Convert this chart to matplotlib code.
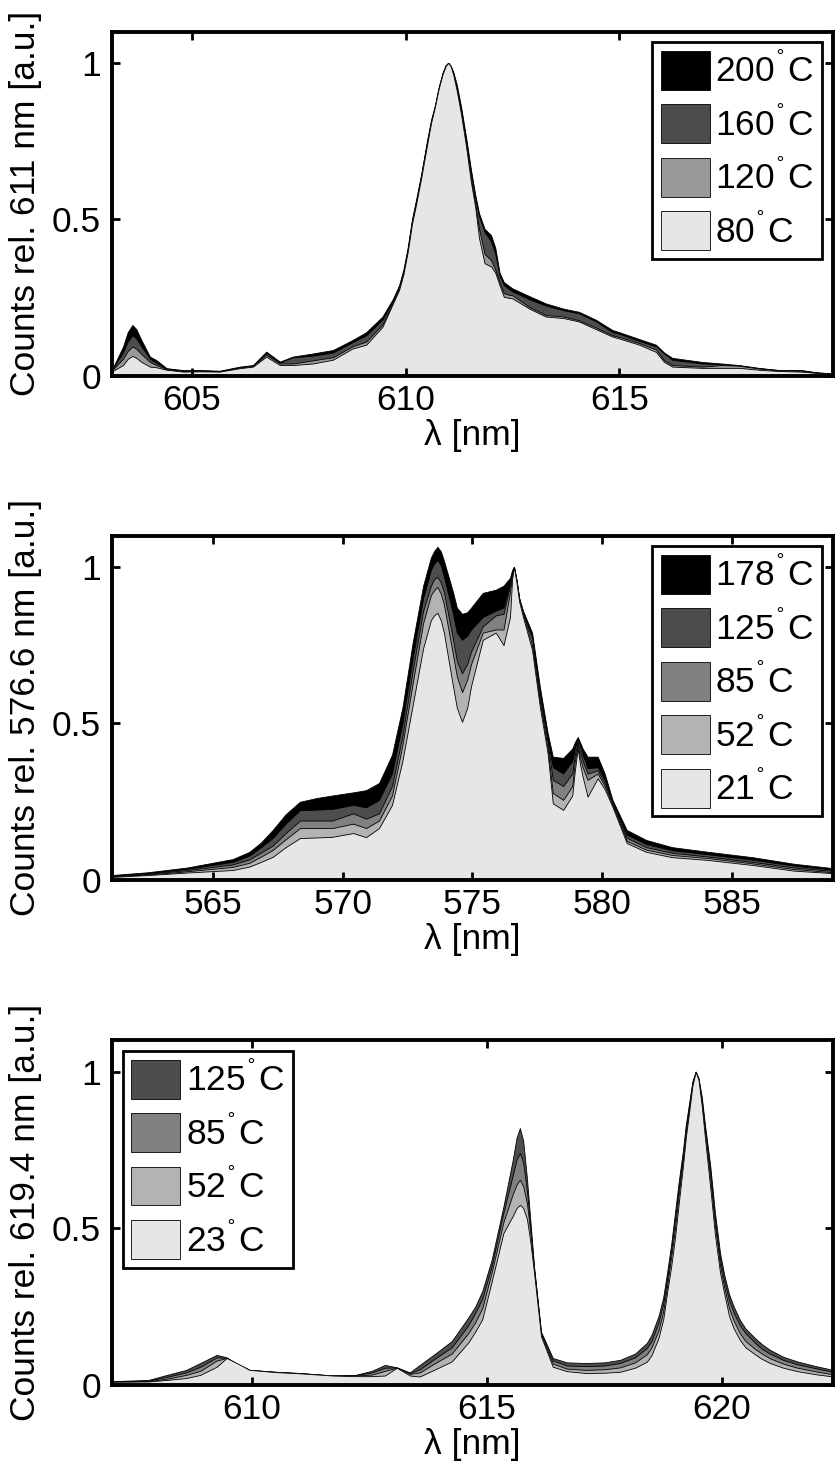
import matplotlib
matplotlib.use("Agg")
import matplotlib.pyplot as plt

plt.rcParams["font.family"] = ["Liberation Sans", "DejaVu Sans"]
plt.rcParams["font.size"] = 25.5

# --- Eu emission, normalised to 611 nm ---
wl_611 = [603.13, 603.39, 603.5, 603.61, 603.7, 603.82, 604.02, 604.17, 604.41, 604.8,
          605.19, 605.65, 606.12, 606.43, 606.74, 607.06, 607.36, 607.83, 608.3, 608.76,
          609.08, 609.46, 609.7, 609.85, 609.95, 610.05, 610.15, 610.25, 610.37, 610.5,
          610.6, 610.68, 610.78, 610.87, 610.94, 611.0, 611.06, 611.12, 611.2, 611.3,
          611.42, 611.53, 611.63, 611.72, 611.85, 612.0, 612.1, 612.2, 612.3, 612.4,
          612.5, 612.9, 613.28, 613.7, 614.06, 614.45, 614.84, 615.0, 615.47, 615.86,
          616.05, 616.24, 616.94, 617.4, 617.8, 618.27, 618.74, 619.27, 619.6, 620.0]
s611_200 = [0.02, 0.094, 0.14, 0.163, 0.15, 0.115, 0.062, 0.051, 0.025, 0.019,
            0.019, 0.017, 0.03, 0.035, 0.078, 0.046, 0.062, 0.072, 0.083, 0.115,
            0.14, 0.19, 0.245, 0.29, 0.34, 0.41, 0.5, 0.565, 0.647, 0.75,
            0.82, 0.86, 0.925, 0.97, 0.993, 1.0, 0.99, 0.97, 0.93, 0.86,
            0.76, 0.66, 0.58, 0.52, 0.47, 0.45, 0.41, 0.33, 0.30, 0.29,
            0.28, 0.255, 0.232, 0.215, 0.205, 0.18, 0.147, 0.14, 0.118, 0.1,
            0.075, 0.058, 0.045, 0.04, 0.035, 0.026, 0.019, 0.019, 0.012, 0.008]
s611_160 = [0.02, 0.075, 0.11, 0.13, 0.12, 0.095, 0.055, 0.042, 0.024, 0.017,
            0.018, 0.016, 0.028, 0.034, 0.074, 0.043, 0.06, 0.065, 0.075, 0.108,
            0.13, 0.18, 0.24, 0.285, 0.335, 0.405, 0.495, 0.56, 0.645, 0.745,
            0.815, 0.858, 0.923, 0.968, 0.992, 1.0, 0.989, 0.965, 0.92, 0.85,
            0.75, 0.65, 0.57, 0.51, 0.46, 0.43, 0.39, 0.32, 0.29, 0.28,
            0.27, 0.245, 0.225, 0.21, 0.2, 0.175, 0.14, 0.135, 0.112, 0.095,
            0.072, 0.052, 0.04, 0.038, 0.034, 0.025, 0.019, 0.018, 0.012, 0.008]
s611_120 = [0.018, 0.055, 0.08, 0.094, 0.087, 0.07, 0.045, 0.035, 0.022, 0.016,
            0.016, 0.015, 0.027, 0.032, 0.068, 0.04, 0.04, 0.05, 0.06, 0.095,
            0.11, 0.165, 0.235, 0.28, 0.33, 0.40, 0.49, 0.555, 0.64, 0.74,
            0.81, 0.855, 0.92, 0.966, 0.991, 1.0, 0.988, 0.96, 0.915, 0.84,
            0.74, 0.63, 0.55, 0.47, 0.39, 0.37, 0.34, 0.30, 0.265, 0.26,
            0.258, 0.22, 0.195, 0.19, 0.178, 0.155, 0.13, 0.125, 0.105, 0.085,
            0.05, 0.035, 0.03, 0.035, 0.033, 0.024, 0.018, 0.017, 0.011, 0.007]
s611_80 = [0.015, 0.035, 0.055, 0.064, 0.058, 0.045, 0.03, 0.028, 0.02, 0.014,
           0.015, 0.014, 0.025, 0.03, 0.062, 0.035, 0.035, 0.04, 0.052, 0.088,
           0.1, 0.157, 0.23, 0.275, 0.325, 0.395, 0.485, 0.55, 0.635, 0.735,
           0.81, 0.855, 0.92, 0.965, 0.99, 1.0, 0.988, 0.96, 0.91, 0.835,
           0.73, 0.62, 0.54, 0.44, 0.36, 0.35, 0.33, 0.29, 0.253, 0.25,
           0.248, 0.215, 0.19, 0.185, 0.174, 0.15, 0.126, 0.12, 0.1, 0.077,
           0.045, 0.03, 0.026, 0.026, 0.026, 0.02, 0.016, 0.014, 0.01, 0.006]

# --- Dy emission, normalised to 576.6 nm ---
wl_576 = [561.1, 562.5, 564.0, 565.76, 566.4, 566.85, 567.3, 567.8, 568.35, 569.0,
          569.6, 570.4, 570.9, 571.4, 571.9, 572.3, 572.7, 573.1, 573.4, 573.52,
          573.65, 573.78, 573.9, 574.25, 574.4, 574.6, 574.8, 574.95, 575.4, 575.9,
          576.2, 576.45, 576.53, 576.6, 576.7, 576.8, 576.95, 577.3, 577.6, 577.9,
          578.1, 578.5, 578.85, 578.95, 579.06, 579.15, 579.25, 579.44, 579.83, 580.1,
          580.4, 580.95, 581.7, 582.7, 584.1, 585.8, 587.4, 588.9]
s576_178 = [0.016, 0.025, 0.04, 0.067, 0.09, 0.12, 0.16, 0.21, 0.25, 0.262,
            0.27, 0.28, 0.287, 0.31, 0.40, 0.55, 0.76, 0.94, 1.03, 1.05,
            1.064, 1.05, 1.02, 0.92, 0.87, 0.85, 0.855, 0.87, 0.917, 0.927,
            0.94, 0.965, 0.99, 1.0, 0.96, 0.9, 0.86, 0.79, 0.617, 0.47,
            0.394, 0.39, 0.42, 0.44, 0.457, 0.44, 0.42, 0.394, 0.394, 0.34,
            0.256, 0.16, 0.128, 0.105, 0.09, 0.073, 0.052, 0.038]
s576_125 = [0.014, 0.022, 0.036, 0.058, 0.078, 0.105, 0.134, 0.18, 0.223, 0.225,
            0.227, 0.24, 0.232, 0.256, 0.34, 0.50, 0.71, 0.90, 0.99, 1.01,
            1.022, 1.005, 0.97, 0.85, 0.79, 0.767, 0.78, 0.80, 0.84, 0.86,
            0.87, 0.95, 0.985, 1.0, 0.958, 0.9, 0.855, 0.78, 0.60, 0.45,
            0.36, 0.34, 0.38, 0.42, 0.45, 0.43, 0.40, 0.357, 0.36, 0.32,
            0.25, 0.145, 0.115, 0.095, 0.082, 0.065, 0.046, 0.033]
s576_85 = [0.012, 0.02, 0.032, 0.05, 0.066, 0.088, 0.11, 0.15, 0.19, 0.19,
           0.19, 0.213, 0.196, 0.213, 0.30, 0.46, 0.67, 0.86, 0.94, 0.96,
           0.968, 0.95, 0.92, 0.77, 0.70, 0.66, 0.69, 0.73, 0.81, 0.845,
           0.85, 0.94, 0.98, 1.0, 0.956, 0.9, 0.85, 0.77, 0.585, 0.44,
           0.32, 0.30, 0.34, 0.40, 0.44, 0.41, 0.38, 0.34, 0.35, 0.31,
           0.245, 0.135, 0.105, 0.087, 0.075, 0.058, 0.04, 0.029]
s576_52 = [0.011, 0.018, 0.028, 0.042, 0.055, 0.075, 0.096, 0.13, 0.166, 0.166,
           0.166, 0.18, 0.166, 0.19, 0.27, 0.43, 0.63, 0.82, 0.91, 0.925,
           0.936, 0.915, 0.88, 0.72, 0.65, 0.60, 0.64, 0.69, 0.79, 0.80,
           0.80, 0.92, 0.975, 1.0, 0.955, 0.9, 0.85, 0.75, 0.57, 0.42,
           0.278, 0.256, 0.30, 0.38, 0.43, 0.39, 0.36, 0.32, 0.34, 0.30,
           0.24, 0.125, 0.097, 0.08, 0.07, 0.053, 0.035, 0.025]
s576_21 = [0.01, 0.016, 0.024, 0.032, 0.043, 0.058, 0.074, 0.105, 0.134, 0.136,
           0.138, 0.15, 0.137, 0.166, 0.24, 0.38, 0.56, 0.74, 0.83, 0.845,
           0.853, 0.83, 0.79, 0.62, 0.55, 0.505, 0.55, 0.62, 0.767, 0.79,
           0.75, 0.84, 0.96, 1.0, 0.95, 0.89, 0.84, 0.735, 0.553, 0.405,
           0.245, 0.224, 0.27, 0.35, 0.42, 0.37, 0.33, 0.266, 0.325, 0.29,
           0.234, 0.118, 0.09, 0.073, 0.064, 0.048, 0.03, 0.022]

# --- Eu emission, normalised to 619.4 nm ---
wl_619 = [607.02, 607.8, 608.19, 608.6, 608.9, 609.25, 609.46, 609.7, 609.95, 610.5,
          611.02, 611.72, 612.2, 612.55, 612.83, 613.08, 613.36, 613.57, 613.9, 614.25,
          614.6, 614.75, 614.9, 615.1, 615.35, 615.55, 615.63, 615.7, 615.77, 615.85,
          615.92, 616.0, 616.15, 616.4, 616.7, 617.1, 617.5, 617.83, 618.15, 618.4,
          618.5, 618.65, 618.75, 618.83, 618.92, 619.0, 619.08, 619.17, 619.23, 619.3,
          619.37, 619.44, 619.5, 619.57, 619.63, 619.75, 619.85, 619.96, 620.05, 620.15,
          620.25, 620.38, 620.5, 620.7, 620.85, 621.02, 621.3, 621.6, 622.0, 622.36]
s619_125 = [0.012, 0.016, 0.032, 0.048, 0.07, 0.096, 0.088, 0.065, 0.048, 0.042,
            0.038, 0.03, 0.032, 0.045, 0.064, 0.056, 0.04, 0.064, 0.1, 0.14,
            0.215, 0.25, 0.3, 0.40, 0.57, 0.72, 0.79, 0.82, 0.78, 0.66,
            0.53, 0.38, 0.17, 0.086, 0.072, 0.07, 0.072, 0.08, 0.1, 0.134,
            0.16, 0.22, 0.28, 0.357, 0.45, 0.55, 0.65, 0.75, 0.83, 0.9,
            0.97, 1.0, 0.98, 0.92, 0.84, 0.7, 0.55, 0.42, 0.35, 0.29,
            0.25, 0.208, 0.18, 0.15, 0.13, 0.112, 0.09, 0.075, 0.06, 0.048]
s619_85 = [0.011, 0.014, 0.026, 0.04, 0.058, 0.088, 0.087, 0.066, 0.048, 0.042,
           0.038, 0.03, 0.031, 0.04, 0.055, 0.056, 0.038, 0.05, 0.085, 0.12,
           0.19, 0.23, 0.275, 0.38, 0.55, 0.67, 0.72, 0.74, 0.71, 0.62,
           0.51, 0.375, 0.165, 0.078, 0.062, 0.06, 0.062, 0.07, 0.088, 0.118,
           0.14, 0.2, 0.26, 0.335, 0.43, 0.53, 0.63, 0.73, 0.82, 0.89,
           0.965, 1.0, 0.978, 0.91, 0.83, 0.68, 0.53, 0.4, 0.33, 0.27,
           0.23, 0.19, 0.165, 0.135, 0.115, 0.1, 0.08, 0.066, 0.053, 0.042]
s619_52 = [0.01, 0.012, 0.02, 0.032, 0.045, 0.078, 0.086, 0.066, 0.048, 0.041,
           0.037, 0.03, 0.03, 0.033, 0.045, 0.055, 0.035, 0.04, 0.07, 0.1,
           0.165, 0.2, 0.245, 0.36, 0.52, 0.61, 0.64, 0.655, 0.635, 0.58,
           0.49, 0.37, 0.16, 0.068, 0.052, 0.048, 0.05, 0.056, 0.072, 0.098,
           0.12, 0.175, 0.235, 0.315, 0.41, 0.5, 0.61, 0.72, 0.80, 0.88,
           0.96, 1.0, 0.976, 0.9, 0.82, 0.66, 0.51, 0.38, 0.31, 0.245,
           0.205, 0.165, 0.14, 0.115, 0.1, 0.085, 0.068, 0.055, 0.043, 0.034]
s619_23 = [0.01, 0.011, 0.016, 0.022, 0.032, 0.058, 0.086, 0.068, 0.048, 0.041,
           0.037, 0.03, 0.028, 0.028, 0.03, 0.055, 0.03, 0.027, 0.05, 0.075,
           0.135, 0.17, 0.21, 0.33, 0.485, 0.54, 0.565, 0.575, 0.565, 0.53,
           0.46, 0.36, 0.155, 0.058, 0.044, 0.038, 0.039, 0.042, 0.055, 0.074,
           0.095, 0.15, 0.21, 0.293, 0.38, 0.47, 0.58, 0.70, 0.79, 0.87,
           0.955, 1.0, 0.974, 0.89, 0.80, 0.63, 0.48, 0.357, 0.29, 0.22,
           0.18, 0.144, 0.12, 0.098, 0.083, 0.07, 0.055, 0.044, 0.034, 0.027]

GREYS = {200: "#000000", 178: "#000000", 160: "#4d4d4d", 125: "#4d4d4d",
         120: "#999999", 85: "#808080", 52: "#b3b3b3", 80: "#e6e6e6",
         23: "#e6e6e6", 21: "#e6e6e6"}


def _panel(ax, wl, series, xlim, xticks, ylabel, legend_loc):
    # hottest spectrum at the back, coolest in front
    for temp, spec in series:
        ax.fill_between(wl, 0, spec, facecolor=GREYS[temp], edgecolor="k",
                        linewidth=0.6, label=f"{temp}$^{{^{{\\circ}}}}$C")
    ax.set_xlim(*xlim)
    ax.set_ylim(0, 1.1)
    ax.set_xticks(xticks)
    ax.set_yticks([0, 0.5, 1])
    ax.set_yticklabels(["0", "0.5", "1"])
    ax.set_xlabel(r"λ [nm]", labelpad=1)
    ax.set_ylabel(ylabel, labelpad=7)
    ax.tick_params(direction="in", top=True, right=True, length=6, width=2)
    ax.tick_params(axis="x", pad=6)
    ax.tick_params(axis="y", pad=8)
    for sp in ax.spines.values():
        sp.set_linewidth(2.8)
    leg = ax.legend(loc=legend_loc, fontsize=25.5, fancybox=False, edgecolor="k",
                    framealpha=1, handlelength=1.38, handleheight=1.3,
                    labelspacing=0.42, handletextpad=0.15, borderpad=0.25,
                    borderaxespad=0.3)
    leg.get_frame().set_linewidth(2)


fig = plt.figure(figsize=(8.35, 14.66), dpi=100)
left, width, height = 0.134, 0.8635, 0.2350

ax1 = fig.add_axes([left, 0.7435, width, height])
_panel(ax1, wl_611, [(200, s611_200), (160, s611_160), (120, s611_120), (80, s611_80)],
       (603.13, 620.0), [605, 610, 615], "Counts rel. 611 nm [a.u.]", "upper right")

ax2 = fig.add_axes([left, 0.3997, width, height])
_panel(ax2, wl_576, [(178, s576_178), (125, s576_125), (85, s576_85), (52, s576_52),
                     (21, s576_21)],
       (561.1, 588.9), [565, 570, 575, 580, 585], "Counts rel. 576.6 nm [a.u.]", "upper right")

ax3 = fig.add_axes([left, 0.0553, width, height])
_panel(ax3, wl_619, [(125, s619_125), (85, s619_85), (52, s619_52), (23, s619_23)],
       (607.02, 622.36), [610, 615, 620], "Counts rel. 619.4 nm [a.u.]", "upper left")

fig.savefig("out.png", dpi=100)
